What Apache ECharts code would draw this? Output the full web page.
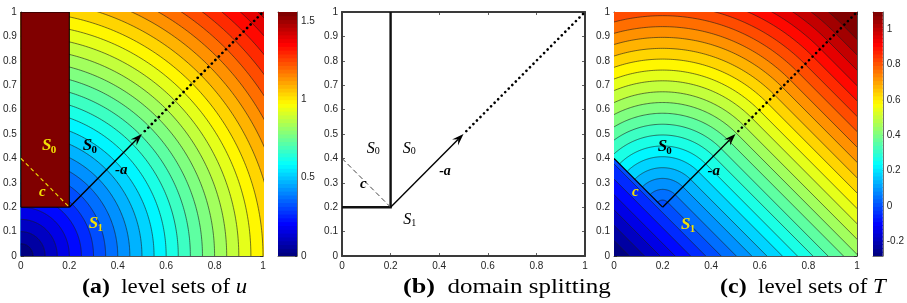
<!DOCTYPE html>
<html><head><meta charset="utf-8">
<script src="https://cdn.jsdelivr.net/npm/echarts@6/dist/echarts.min.js"></script>
<style>html,body{margin:0;padding:0;background:#fff}#c{width:907px;height:303px}</style>
</head><body><div id="c"></div>
<script>
// ---------- data ----------
const xTicks = [0, 0.2, 0.4, 0.6, 0.8, 1];
const yTicks = [0, 0.1, 0.2, 0.3, 0.4, 0.5, 0.6, 0.7, 0.8, 0.9, 1];
// contour levels of u (circles about the origin), panel (a)
const uLevels = [0.05,0.10,0.15,0.20,0.25,0.30,0.35,0.40,0.45,0.50,0.55,0.60,0.65,0.70,0.75,
                 0.80,0.85,0.90,0.95,1.00,1.05,1.10,1.15,1.20,1.25,1.30,1.35,1.40,1.45,1.50];
const uRange = [0, 1.556];
const uBarTicks = [0, 0.5, 1, 1.5];
// contour levels of T, panel (c)
const tLevels = [-0.238,-0.194,-0.149,-0.105,-0.060,-0.016,0.029,0.073,0.118,0.162,0.207,0.251,0.296,0.340,0.385,
                 0.429,0.473,0.518,0.562,0.607,0.651,0.696,0.740,0.785,0.829,0.874,0.918,0.963,1.007,1.052];
const tRange = [-0.283, 1.096];
const tBarTicks = [-0.2, 0, 0.2, 0.4, 0.6, 0.8, 1];
// geometry of the splitting
const corner = [0.2, 0.2];
const cStart = [0, 0.4];
const arrowEnd = [0.5, 0.5];
const diagEnd = [1, 1];
const stripTop = 1;
const captions = [
  {tag: '(a)', text: 'level sets of ', v: 'u'},
  {tag: '(b)', text: 'domain splitting', v: ''},
  {tag: '(c)', text: 'level sets of ', v: 'T'}
];

// ---------- styling ----------
const YEL = '#f2e205';
const SERIF = "'Liberation Serif','Times New Roman',serif";
const SANS = "'Liberation Sans',Arial,sans-serif";
const AX = '#262626';

function jet(t) {
  const c = v => Math.round(255 * Math.max(0, Math.min(1, v)));
  return 'rgb(' + c(Math.min(4*t-1.5, -4*t+4.5)) + ',' + c(Math.min(4*t-0.5, -4*t+3.5)) + ',' + c(Math.min(4*t+0.5, -4*t+2.5)) + ')';
}

const grids = [
  {left: 19, top: 12, width: 244, height: 244},   // a
  {left: 278, top: 12, width: 19, height: 244},   // bar a
  {left: 342, top: 12, width: 243, height: 244},  // b
  {left: 614, top: 12, width: 243, height: 244},  // c
  {left: 873, top: 12, width: 19, height: 244}    // bar c
];
const xAxes = [], yAxes = [];
function plotAxes(gi, lw, col) {
  const xi = xAxes.length, yi = yAxes.length;
  const line = {show: true, onZero: false, lineStyle: {color: col, width: lw}};
  const tick = {show: true, inside: true, length: 3, lineStyle: {color: col, width: 0.8}};
  const lab = {show: true, fontSize: 10, color: AX, fontFamily: SANS, showMinLabel: true, showMaxLabel: true};
  xAxes.push({gridIndex: gi, type: 'value', min: xTicks[0], max: xTicks[xTicks.length-1], interval: xTicks[1]-xTicks[0], position: 'bottom',
    axisLine: line, axisTick: tick, axisLabel: Object.assign({margin: 5}, lab), splitLine: {show: false}});
  xAxes.push({gridIndex: gi, type: 'value', min: xTicks[0], max: xTicks[xTicks.length-1], interval: xTicks[1]-xTicks[0], position: 'top',
    axisLine: line, axisTick: tick, axisLabel: {show: false}, splitLine: {show: false}});
  yAxes.push({gridIndex: gi, type: 'value', min: yTicks[0], max: yTicks[yTicks.length-1], interval: yTicks[1]-yTicks[0], position: 'left',
    axisLine: line, axisTick: tick, axisLabel: Object.assign({margin: 4}, lab), splitLine: {show: false}});
  yAxes.push({gridIndex: gi, type: 'value', min: yTicks[0], max: yTicks[yTicks.length-1], interval: yTicks[1]-yTicks[0], position: 'right',
    axisLine: line, axisTick: tick, axisLabel: {show: false}, splitLine: {show: false}});
  return {xAxisIndex: xi, yAxisIndex: yi};
}
function barAxes(gi, range, ticks) {
  const xi = xAxes.length, yi = yAxes.length;
  const line = {show: true, onZero: false, lineStyle: {color: '#707070', width: 1}};
  xAxes.push({gridIndex: gi, type: 'value', min: 0, max: 1, position: 'bottom', axisLine: line, axisTick: {show: false}, axisLabel: {show: false}, splitLine: {show: false}});
  xAxes.push({gridIndex: gi, type: 'value', min: 0, max: 1, position: 'top', axisLine: line, axisTick: {show: false}, axisLabel: {show: false}, splitLine: {show: false}});
  yAxes.push({gridIndex: gi, type: 'value', min: range[0], max: range[1], position: 'right', axisLine: line,
    axisTick: {show: true, inside: true, length: 2, customValues: ticks, lineStyle: {color: AX, width: 0.8}},
    axisLabel: {show: true, customValues: ticks, margin: 4, fontSize: 10, color: AX, fontFamily: SANS}, splitLine: {show: false}});
  yAxes.push({gridIndex: gi, type: 'value', min: range[0], max: range[1], position: 'left', axisLine: line, axisTick: {show: false}, axisLabel: {show: false}, splitLine: {show: false}});
  return {xAxisIndex: xi, yAxisIndex: yi};
}
const A = plotAxes(0, 0.8, AX);
const BA = barAxes(1, uRange, uBarTicks);
const B = plotAxes(2, 2, '#3a3a3a');
const C = plotAxes(3, 0.8, AX);
const BC = barAxes(4, tRange, tBarTicks);

function cs(ax, data, renderItem, z) {
  return Object.assign({type: 'custom', clip: true, silent: true, z: z, data: data, renderItem: renderItem}, ax);
}
function arc(cx, cy, r, a0, a1, n) {
  const p = [];
  for (let k = 0; k <= n; k++) { const a = a0 + (a1 - a0) * k / n; p.push([cx + r*Math.cos(a), cy + r*Math.sin(a)]); }
  return p;
}
const H = Math.PI / 2;

// --- panel (a): u = distance from origin, strip constant ---
const nA = uLevels.length;
const fillsA = cs(A, uLevels.map((L, i) => [L, i]).concat([[10, nA]]), function (p, api) {
  const L = api.value(0), i = api.value(1);
  const pts = [[0, 0]].concat(arc(0, 0, L, 0, H, 120));
  return {type: 'polygon', z2: nA - i, shape: {points: pts.map(q => api.coord(q))}, style: {fill: jet(i / nA)}};
}, 1);
const linesA = cs(A, uLevels.map((L, i) => [L, i]), function (p, api) {
  const L = api.value(0);
  return {type: 'polyline', shape: {points: arc(0, 0, L, 0, H, 120).map(q => api.coord(q))},
    style: {stroke: '#1c1c1c', lineWidth: 0.7, fill: null, opacity: 0.85}};
}, 2);
const stripA = cs(A, [[corner[0], corner[1]]], function (p, api) {
  const pts = [[0, corner[1]], corner, [corner[0], stripTop], [0, stripTop]];
  return {type: 'polygon', shape: {points: pts.map(q => api.coord(q))}, style: {fill: jet(1), stroke: '#000', lineWidth: 1}};
}, 3);

// --- panel (c): T ---
const nC = tLevels.length;
const S2 = Math.SQRT2;
function uv(q) { return [corner[0] + (q[0] - q[1]) / S2, corner[1] + (q[0] + q[1]) / S2]; }
function tRegion(L) {
  const Bg = 4;
  let pts;
  if (L <= 0) pts = [[L, -Bg], [L, Bg], [-Bg, Bg], [-Bg, -Bg]];
  else pts = [[L, -Bg]].concat(arc(0, 0, L, 0, H, 120), [[0, Bg], [-Bg, Bg], [-Bg, -Bg]]);
  return pts.map(uv);
}
function tLine(L) {
  const Bg = 4;
  if (L <= 0) return [[L, -Bg], [L, Bg]].map(uv);
  return [[L, -Bg]].concat(arc(0, 0, L, 0, H, 120)).map(uv);
}
const fillsC = cs(C, tLevels.map((L, i) => [L, i]).concat([[10, nC]]), function (p, api) {
  const L = api.value(0), i = api.value(1);
  return {type: 'polygon', z2: nC - i, shape: {points: tRegion(L).map(q => api.coord(q))}, style: {fill: jet(i / nC)}};
}, 1);
const linesC = cs(C, tLevels.map((L, i) => [L, i]), function (p, api) {
  const L = api.value(0);
  return {type: 'polyline', shape: {points: tLine(L).map(q => api.coord(q))},
    style: {stroke: '#1c1c1c', lineWidth: 0.7, fill: null, opacity: 0.85}};
}, 2);

// --- overlays ---
function arrowEls(api) {
  const p0 = api.coord(corner), p1 = api.coord(arrowEnd), p2 = api.coord(diagEnd);
  const dx = p1[0]-p0[0], dy = p1[1]-p0[1], len = Math.hypot(dx, dy), ux = dx/len, uy = dy/len, nx = -uy, ny = ux;
  const L = 12, W = 4.2;
  const b1 = [p1[0]-ux*L+nx*W, p1[1]-uy*L+ny*W], b2 = [p1[0]-ux*L-nx*W, p1[1]-uy*L-ny*W];
  const nt = [p1[0]-ux*L*0.62, p1[1]-uy*L*0.62];
  return [
    {type: 'line', shape: {x1: p0[0], y1: p0[1], x2: nt[0], y2: nt[1]}, style: {stroke: '#000', lineWidth: 1.4}},
    {type: 'polygon', shape: {points: [p1, b1, nt, b2]}, style: {fill: '#000'}},
    {type: 'line', shape: {x1: p1[0]+ux*4, y1: p1[1]+uy*4, x2: p2[0], y2: p2[1]},
      style: {stroke: '#000', lineWidth: 2.7, lineDash: [0.01, 5], lineCap: 'round'}}
  ];
}
function cLine(api, color, dash, w) {
  const a = api.coord(cStart), b = api.coord(corner);
  return {type: 'line', shape: {x1: a[0], y1: a[1], x2: b[0], y2: b[1]}, style: {stroke: color, lineWidth: w, lineDash: dash}};
}
function textEls(api, list) {
  const els = [];
  list.forEach(l => {
    const q = api.coord(l.pos);
    els.push({type: 'text', x: q[0], y: q[1], style: {text: l.t, font: l.font, fill: l.col,
      textAlign: 'center', textVerticalAlign: 'middle', align: 'center', verticalAlign: 'middle'}});
    if (l.sub) els.push({type: 'text', x: q[0] + l.dx, y: q[1] + l.dy, style: {text: l.sub, font: l.subFont, fill: l.col,
      textAlign: 'left', textVerticalAlign: 'middle', align: 'left', verticalAlign: 'middle'}});
  });
  return els;
}
const FB = 'italic bold 17px ' + SERIF, FBs = 'bold 11px ' + SERIF;
const FA = 'italic bold 15px ' + SERIF;
const labA = [
  {t: 'S', sub: '0', pos: [0.107, 0.452], col: YEL, font: FB, subFont: FBs, dx: 4, dy: 4},
  {t: 'S', sub: '0', pos: [0.275, 0.452], col: '#000', font: FB, subFont: FBs, dx: 4, dy: 4},
  {t: '-a', pos: [0.414, 0.35], col: '#000', font: FA},
  {t: 'c', pos: [0.088, 0.262], col: YEL, font: FA},
  {t: 'S', sub: '1', pos: [0.30, 0.131], col: YEL, font: FB, subFont: FBs, dx: 4, dy: 4}
];
const FN = 'italic 16px ' + SERIF, FNs = '10px ' + SERIF;
const labB = [
  {t: 'S', sub: '0', pos: [0.118, 0.441], col: '#000', font: FN, subFont: FNs, dx: 4, dy: 3},
  {t: 'S', sub: '0', pos: [0.266, 0.441], col: '#000', font: FN, subFont: FNs, dx: 4, dy: 3},
  {t: '-a', pos: [0.424, 0.345], col: '#000', font: 'italic bold 14px ' + SERIF},
  {t: 'c', pos: [0.088, 0.296], col: '#000', font: 'italic bold 15px ' + SERIF},
  {t: 'S', sub: '1', pos: [0.269, 0.148], col: '#000', font: FN, subFont: FNs, dx: 4, dy: 3}
];
const labC = [
  {t: 'S', sub: '0', pos: [0.199, 0.448], col: '#000', font: FB, subFont: FBs, dx: 4, dy: 4},
  {t: '-a', pos: [0.41, 0.348], col: '#000', font: FA},
  {t: 'c', pos: [0.088, 0.262], col: YEL, font: FA},
  {t: 'S', sub: '1', pos: [0.295, 0.127], col: YEL, font: FB, subFont: FBs, dx: 4, dy: 4}
];

const overA = cs(A, [[0]], function (p, api) {
  return {type: 'group', children: [cLine(api, YEL, [4, 3], 1.1)].concat(arrowEls(api), textEls(api, labA))};
}, 5);
const overB = cs(B, [[0]], function (p, api) {
  const pts = [[corner[0], stripTop], corner, [0, corner[1]]].map(q => api.coord(q));
  return {type: 'group', children: [
    {type: 'polyline', shape: {points: pts}, style: {stroke: '#111', lineWidth: 2.4, fill: null, lineJoin: 'miter'}},
    cLine(api, '#444', [5, 3], 1)
  ].concat(arrowEls(api), textEls(api, labB))};
}, 5);
const overC = cs(C, [[0]], function (p, api) {
  return {type: 'group', children: [cLine(api, '#000', null, 1.2)].concat(arrowEls(api), textEls(api, labC))};
}, 5);

// --- colorbars (64-step jet) ---
function bar(ax, range) {
  const n = 64, d = [];
  for (let i = 0; i < n; i++) d.push([i]);
  return cs(ax, d, function (p, api) {
    const i = api.value(0);
    const y0 = range[0] + (range[1] - range[0]) * i / n, y1 = range[0] + (range[1] - range[0]) * (i + 1) / n;
    const a = api.coord([0, y1]), b = api.coord([1, y0]);
    return {type: 'rect', shape: {x: a[0], y: a[1] - 0.5, width: b[0] - a[0], height: b[1] - a[1] + 1}, style: {fill: jet(i / (n - 1))}};
  }, 1);
}

const capX = [82, 403, 720];
const capScale = [1.085, 1.19, 1.09];
const option = {
  animation: false,
  grid: grids,
  xAxis: xAxes,
  yAxis: yAxes,
  series: [fillsA, linesA, stripA, overA, bar(BA, uRange), overB, fillsC, linesC, overC, bar(BC, tRange)],
  graphic: captions.map((c, i) => ({
    type: 'text', x: capX[i], y: 276, scaleX: capScale[i],
    style: {text: '{b|' + c.tag + '}{n|  ' + c.text + '}' + (c.v ? '{i|' + c.v + '}' : ''),
      rich: {b: {font: 'bold 22px ' + SERIF, fill: '#000'}, n: {font: '21px ' + SERIF, fill: '#000'}, i: {font: 'italic 21px ' + SERIF, fill: '#000'}}}
  }))
};
const chart = echarts.init(document.getElementById('c'), null, {renderer: 'canvas', width: 907, height: 303});
chart.setOption(option);
</script>
</body></html>
